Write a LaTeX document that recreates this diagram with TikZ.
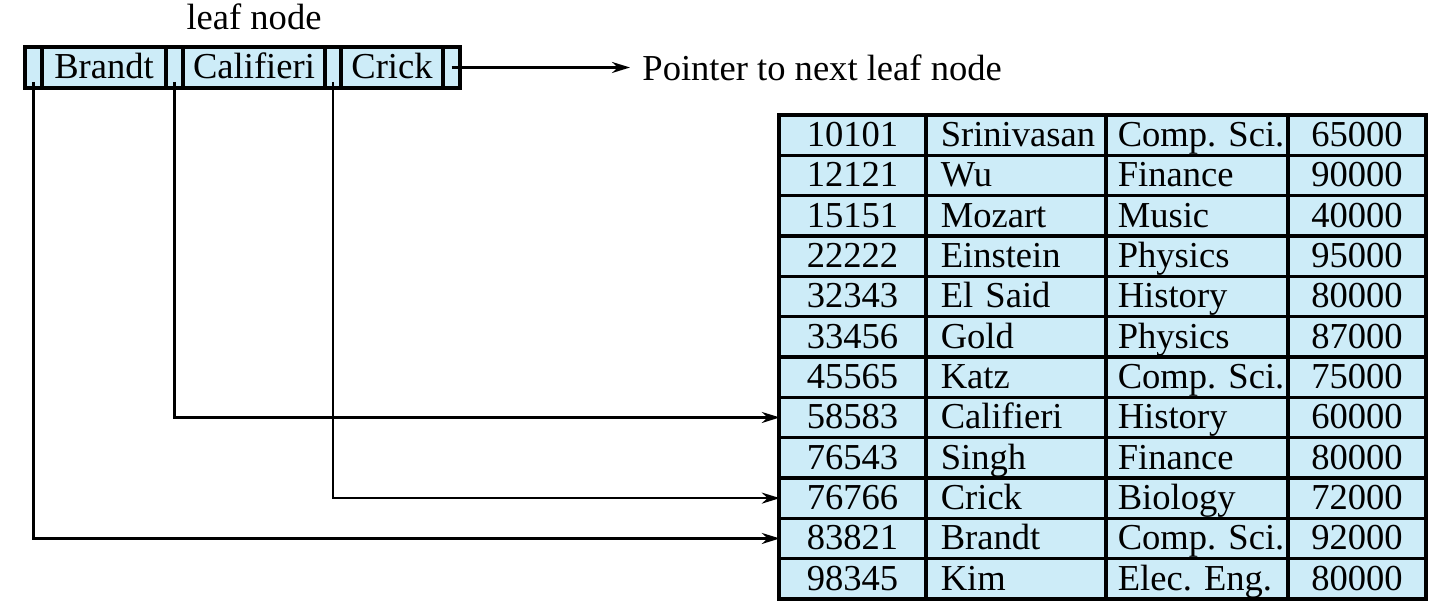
\documentclass[tikz,border=0pt]{standalone}
\usepackage{fontspec}
\setmainfont{Liberation Serif}
\usepackage{tikz}
\usetikzlibrary{arrows.meta,positioning,calc,matrix}
\definecolor{leafblue}{RGB}{205,236,248}

\begin{document}
\begin{tikzpicture}[font=\fontsize{10.4}{12}\selectfont,>={Stealth[length=1.8mm,width=1.1mm]},
  ptr/.style={draw,line width=0.9pt,fill=leafblue,minimum width=0.17cm,minimum height=0.41cm,
              text height=7.85pt,text depth=1.35pt,inner sep=0pt,outer sep=0pt},
  key/.style={ptr,minimum width=#1},
  cell/.style={draw,line width=0.45pt,fill=leafblue,minimum height=0.4033cm-0.45pt,
               text height=7.85pt,text depth=1.35pt,inner ysep=0pt,outer sep=0pt},
  link/.style={->,line width=0.75pt}]
  \useasboundingbox (0,0) rectangle (14.44,-6.10);

  % the leaf node: pointer / key / pointer / key ...
  \node[ptr,anchor=west] (p0) at (0.25,-0.675) {};
  \node[key=1.24cm,right=0pt of p0] (k1) {Brandt};
  \node[ptr,right=0pt of k1] (p1) {};
  \node[key=1.42cm,right=0pt of p1] (k2) {Califieri};
  \node[ptr,minimum width=0.16cm,right=0pt of k2] (p2) {};
  \node[key=1.02cm,right=0pt of p2] (k3) {Crick};
  \node[ptr,right=0pt of k3] (p3) {};
  \node[above=0.05cm of k2] (lbl) {leaf node};
  \node[right=1.7cm of p3] (nxt) {Pointer to next leaf node};
  \draw[link] (p3.center) -- (nxt.west);

  % the instructor file
  \matrix (tab) [matrix of nodes,anchor=north west,inner sep=0pt,outer sep=0pt,
                 column sep=0pt,row sep=0pt,
                 column 1/.style={nodes={cell,minimum width=1.47cm-0.45pt}},
                 column 2/.style={nodes={cell,text width=1.52cm-0.45pt,inner xsep=0.14cm,align=left}},
                 column 3/.style={nodes={cell,text width=1.60cm-0.45pt,inner xsep=0.11cm,align=left}},
                 column 4/.style={nodes={cell,minimum width=1.38cm-0.45pt}}] at (7.79,-1.15)
   {10101 & Srinivasan & Comp.~Sci. & 65000 \\
    12121 & Wu         & Finance    & 90000 \\
    15151 & Mozart     & Music      & 40000 \\
    22222 & Einstein   & Physics    & 95000 \\
    32343 & El~Said    & History    & 80000 \\
    33456 & Gold       & Physics    & 87000 \\
    45565 & Katz       & Comp.~Sci. & 75000 \\
    58583 & Califieri  & History    & 60000 \\
    76543 & Singh      & Finance    & 80000 \\
    76766 & Crick      & Biology    & 72000 \\
    83821 & Brandt     & Comp.~Sci. & 92000 \\
    98345 & Kim        & Elec.~Eng. & 80000 \\};
  \draw[line width=0.9pt] (tab.north west) rectangle (tab.south east);

  % record pointers out of the leaf
  \coordinate (s0) at ($(p0.south)+(0,0.06)$);
  \coordinate (s1) at ($(p1.south)+(0,0.06)$);
  \coordinate (s2) at ($(p2.south)+(0,0.06)$);
  \draw[link] (s0) |- (tab-11-1.west);
  \draw[link] (s1) |- (tab-8-1.west);
  \draw[link] (s2) |- (tab-10-1.west);
\end{tikzpicture}
\end{document}
